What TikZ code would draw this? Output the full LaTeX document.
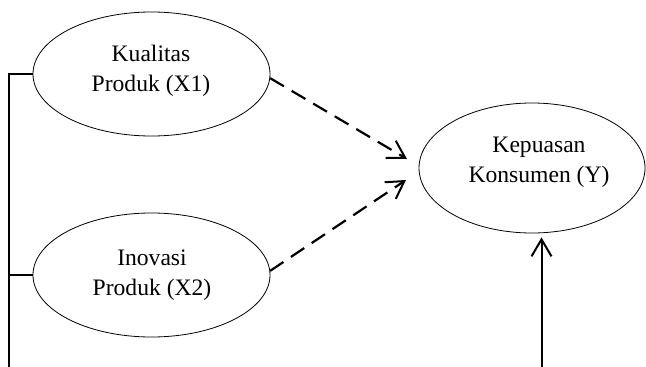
\documentclass[tikz,border=0pt]{standalone}
\usepackage{fontspec}
\setmainfont{Liberation Serif}
\usetikzlibrary{shapes.geometric,arrows.meta}
\begin{document}
\begin{tikzpicture}[x=1pt,y=-1pt,
  var/.style={ellipse,draw,line width=0.8pt,inner sep=0pt},
  lbl/.style={align=center,inner sep=0pt,font=\fontsize{23.6}{30}\selectfont},
  tip/.style={-{Straight Barb[length=17pt,width=20pt,line width=2pt]}},
  dsh/.style={line width=2.2pt,dash pattern=on 16pt off 9pt},
  conn/.style={line width=2pt}]
\useasboundingbox (0,0) rectangle (646,367);
\node[var,minimum width=237pt,minimum height=124pt] (x1) at (151.5,74) {};
\node[var,minimum width=237pt,minimum height=124pt] (x2) at (151.5,275) {};
\node[var,minimum width=226pt,minimum height=130pt] (y) at (532,168) {};
\node[lbl] (x1t) at (151,71) {Kualitas\\Produk (X1)};
\node[lbl] (x2t) at (152,275) {Inovasi\\Produk (X2)};
\node[lbl] (yt) at (539,162) {Kepuasan\\Konsumen (Y)};
\coordinate (a1) at (407,159);
\coordinate (a2) at (406,180);
\coordinate (bl) at (9,367);
\coordinate (br) at (541.5,367);
\draw[dsh,tip] (x1.-2) -- (a1);
\draw[dsh,tip] (x2.2) -- (a2);
\draw[conn] (x1.west) -| (bl);
\draw[conn] (x2.west) -- (x2.west -| bl);
\draw[conn,tip,shorten >=4pt] (br) -- (br |- y.south);
\end{tikzpicture}
\end{document}
